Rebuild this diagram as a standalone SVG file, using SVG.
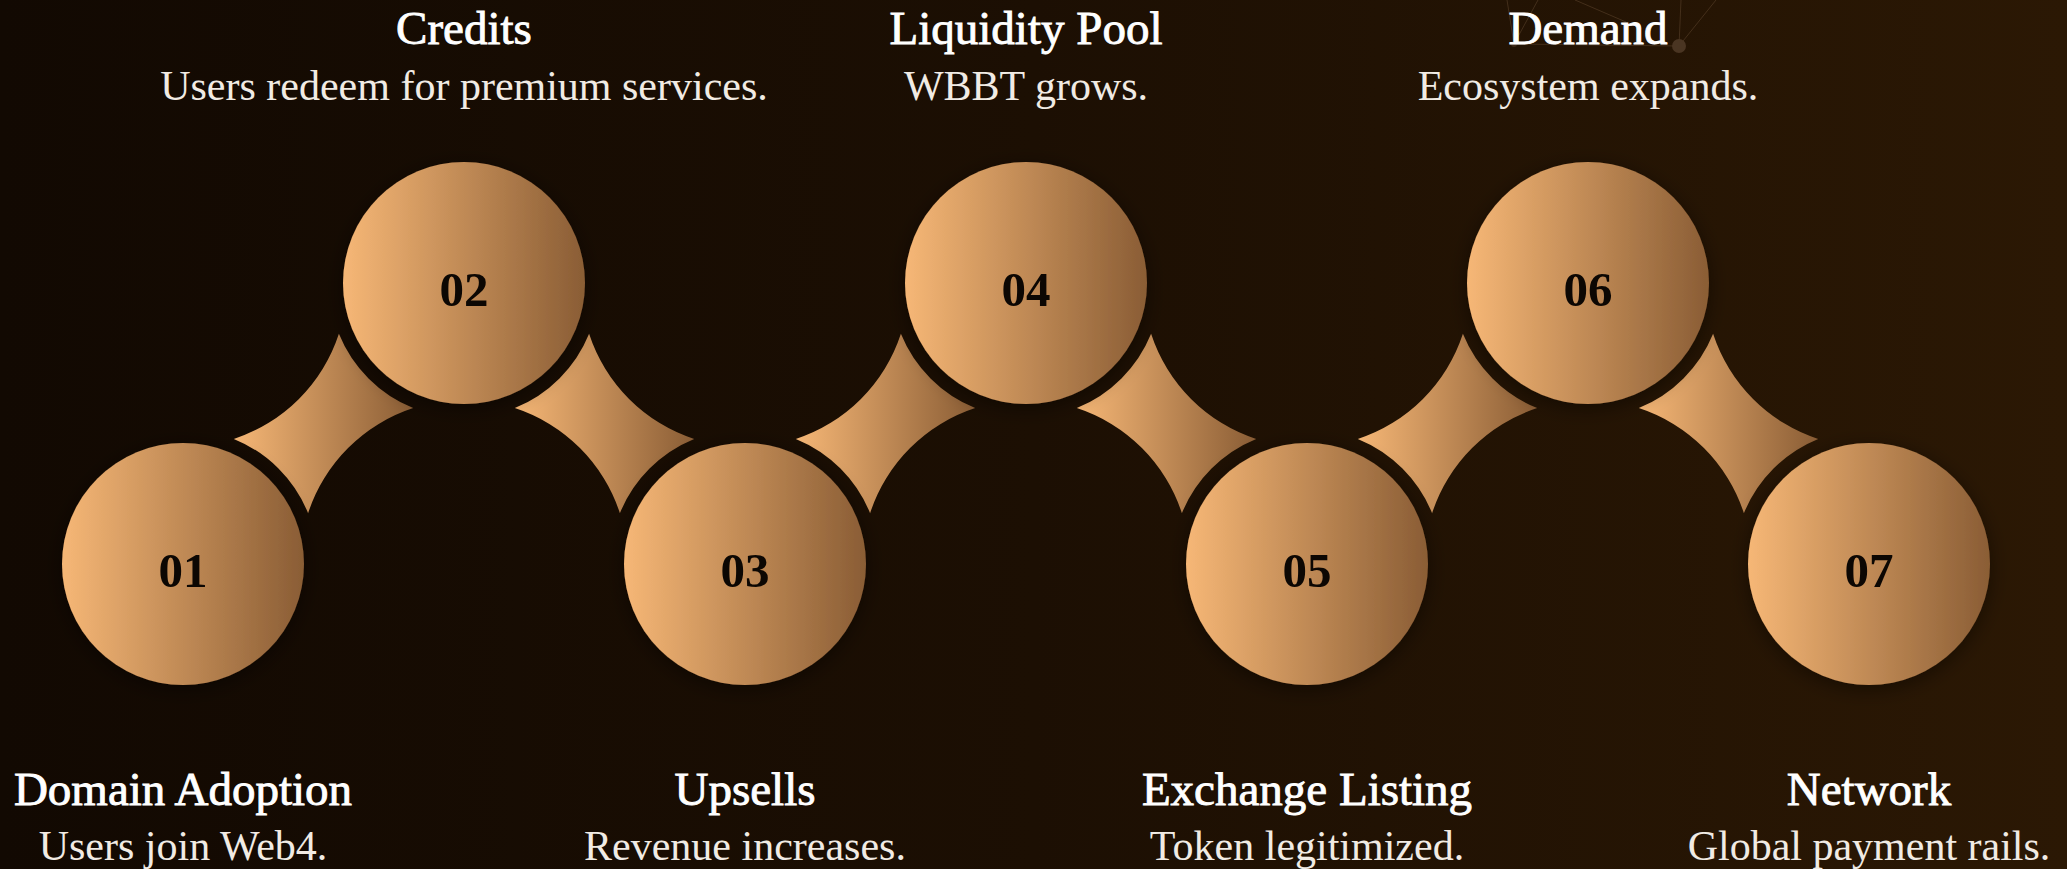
<svg xmlns="http://www.w3.org/2000/svg" width="2067" height="869" viewBox="0 0 2067 869">
  <defs>
    <linearGradient id="bg" x1="0" y1="0" x2="1" y2="0">
      <stop offset="0" stop-color="#120902"/>
      <stop offset="0.5" stop-color="#1c0f03"/>
      <stop offset="1" stop-color="#2b1804"/>
    </linearGradient>
    <linearGradient id="gold" x1="0" y1="0" x2="1" y2="0">
      <stop offset="0" stop-color="#f6b776"/>
      <stop offset="1" stop-color="#8a5d35"/>
    </linearGradient>
    <filter id="shadow" x="-30%" y="-30%" width="160%" height="160%">
      <feDropShadow dx="0" dy="4" stdDeviation="10" flood-color="#000" flood-opacity="0.45"/>
    </filter>
  </defs>
  <style>
    .disc { fill: url(#gold); filter: url(#shadow); }
    .star { fill: url(#gold); }
    .num { font-family: "Liberation Serif", "DejaVu Serif", serif; font-weight: 700; font-size: 49px; fill: #0c0703; text-anchor: middle; }
    .title { font-family: "Liberation Serif", "DejaVu Serif", serif; font-weight: 400; font-size: 47px; fill: #ffffff; stroke: #ffffff; stroke-width: 0.9px; text-anchor: middle; }
    .sub { font-family: "Liberation Serif", "DejaVu Serif", serif; font-weight: 400; font-size: 42px; fill: #f1ebe4; text-anchor: middle; }
    .net { stroke: #6a5038; stroke-width: 1; opacity: 0.45; fill: none; }
  </style>

  <rect x="0" y="0" width="2067" height="869" fill="url(#bg)"/>

  <g id="decoration">
    <line class="net" x1="1514" y1="44" x2="1507" y2="0"/>
    <line class="net" x1="1514" y1="44" x2="1538" y2="0"/>
    <line class="net" x1="1514" y1="44" x2="1679" y2="46"/>
    <line class="net" x1="1679" y1="46" x2="1681" y2="0"/>
    <line class="net" x1="1679" y1="46" x2="1716" y2="0"/>
    <line class="net" x1="1575" y1="0" x2="1626" y2="22"/>
    <circle cx="1514" cy="44" r="3" fill="#3e2a18"/>
    <circle cx="1679" cy="46" r="7" fill="#4a3522"/>
  </g>

  <g id="connectors">
    <path class="star" d="M233.8,438.9 A164,164 0 0 0 338.9,333.8 A135,135 0 0 0 413.2,408.1 A164,164 0 0 0 308.1,513.2 A135,135 0 0 0 233.8,438.9 Z"/>
    <path class="star" d="M514.8,408.1 A135,135 0 0 0 589.1,333.8 A164,164 0 0 0 694.2,438.9 A135,135 0 0 0 619.9,513.2 A164,164 0 0 0 514.8,408.1 Z"/>
    <path class="star" d="M795.8,438.9 A164,164 0 0 0 900.9,333.8 A135,135 0 0 0 975.2,408.1 A164,164 0 0 0 870.1,513.2 A135,135 0 0 0 795.8,438.9 Z"/>
    <path class="star" d="M1076.8,408.1 A135,135 0 0 0 1151.1,333.8 A164,164 0 0 0 1256.2,438.9 A135,135 0 0 0 1181.9,513.2 A164,164 0 0 0 1076.8,408.1 Z"/>
    <path class="star" d="M1357.8,438.9 A164,164 0 0 0 1462.9,333.8 A135,135 0 0 0 1537.2,408.1 A164,164 0 0 0 1432.1,513.2 A135,135 0 0 0 1357.8,438.9 Z"/>
    <path class="star" d="M1638.8,408.1 A135,135 0 0 0 1713.1,333.8 A164,164 0 0 0 1818.2,438.9 A135,135 0 0 0 1743.9,513.2 A164,164 0 0 0 1638.8,408.1 Z"/>
  </g>

  <g id="node-01">
    <circle class="disc" cx="183" cy="564" r="121"/>
    <text class="num" x="183" y="587">01</text>
    <text class="title" x="183" y="805">Domain Adoption</text>
    <text class="sub" x="183" y="860">Users join Web4.</text>
  </g>
  <g id="node-02">
    <circle class="disc" cx="464" cy="283" r="121"/>
    <text class="num" x="464" y="306">02</text>
    <text class="title" x="464" y="44">Credits</text>
    <text class="sub" x="464" y="100">Users redeem for premium services.</text>
  </g>
  <g id="node-03">
    <circle class="disc" cx="745" cy="564" r="121"/>
    <text class="num" x="745" y="587">03</text>
    <text class="title" x="745" y="805">Upsells</text>
    <text class="sub" x="745" y="860">Revenue increases.</text>
  </g>
  <g id="node-04">
    <circle class="disc" cx="1026" cy="283" r="121"/>
    <text class="num" x="1026" y="306">04</text>
    <text class="title" x="1026" y="44">Liquidity Pool</text>
    <text class="sub" x="1026" y="100">WBBT grows.</text>
  </g>
  <g id="node-05">
    <circle class="disc" cx="1307" cy="564" r="121"/>
    <text class="num" x="1307" y="587">05</text>
    <text class="title" x="1307" y="805">Exchange Listing</text>
    <text class="sub" x="1307" y="860">Token legitimized.</text>
  </g>
  <g id="node-06">
    <circle class="disc" cx="1588" cy="283" r="121"/>
    <text class="num" x="1588" y="306">06</text>
    <text class="title" x="1588" y="44">Demand</text>
    <text class="sub" x="1588" y="100">Ecosystem expands.</text>
  </g>
  <g id="node-07">
    <circle class="disc" cx="1869" cy="564" r="121"/>
    <text class="num" x="1869" y="587">07</text>
    <text class="title" x="1869" y="805">Network</text>
    <text class="sub" x="1869" y="860">Global payment rails.</text>
  </g>
</svg>
